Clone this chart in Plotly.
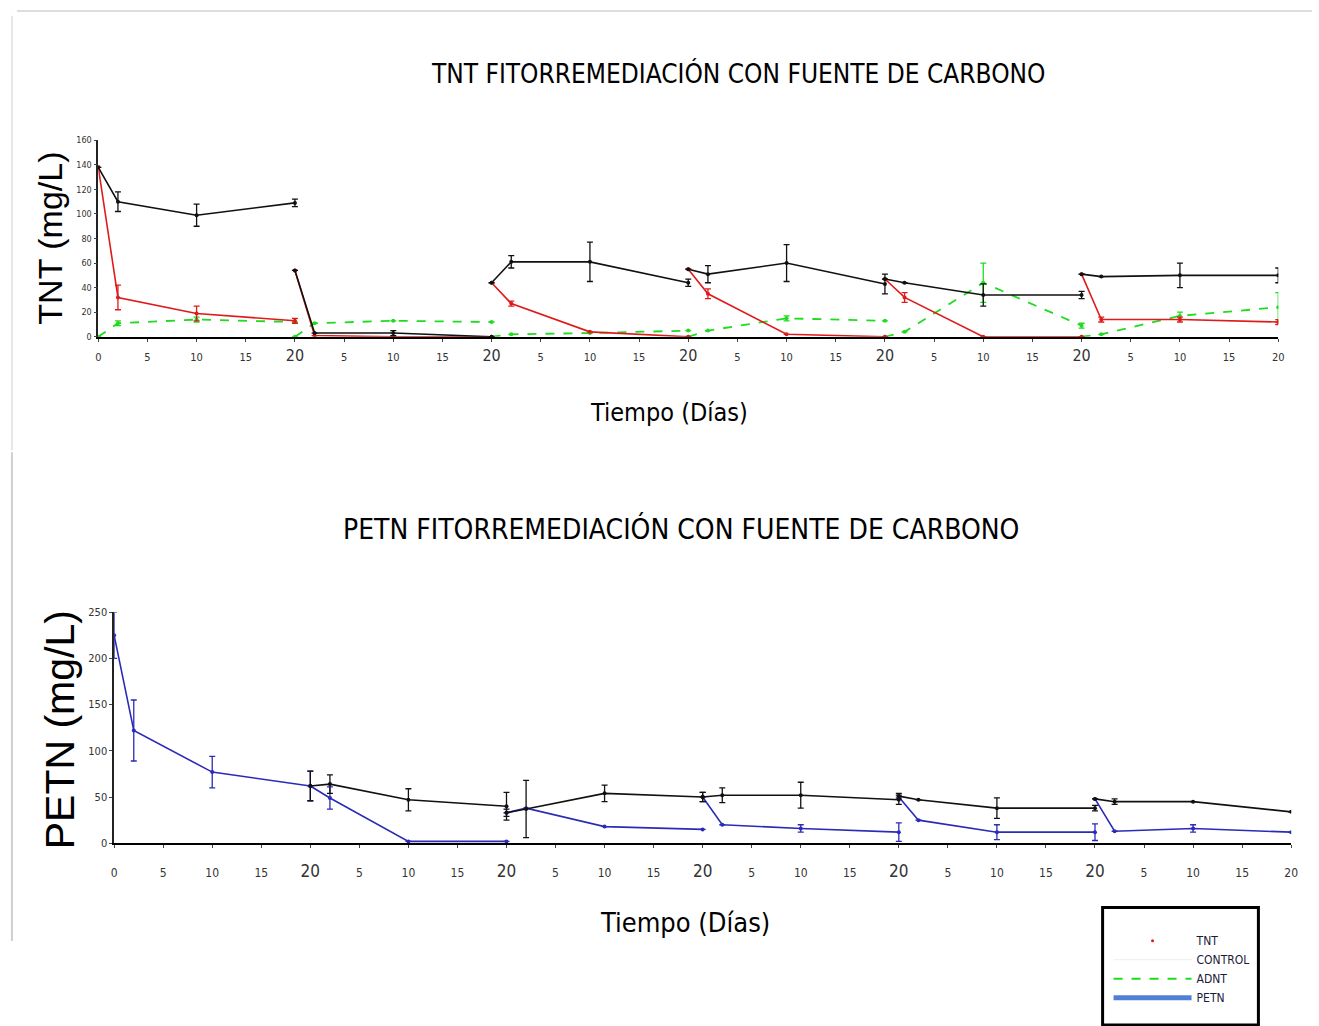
import plotly.graph_objects as go

W, H = 1319, 1026

# Sampling days within each 20-day cycle (six consecutive cycles)
DIAS = [0, 2, 10, 20]
N_CICLOS = 6

# ---- TNT phytoremediation (mg/L), one row per cycle ----
tnt_tnt = [[138, 32, 19, 13], [54, 1, 0, 0], [44, 27, 4, 0],
           [55, 35, 2, 0], [47, 32, 0, 0], [51, 14, 14, 12]]
tnt_tnt_err = [[None, 10, 6, 2], [None, None, None, None], [None, 2, None, None],
               [None, 4, None, None], [None, 4, None, None], [None, 2, 2, 2]]

tnt_control = [[138, 110, 99, 109], [54, 3, 3, 0], [44, 61, 61, 44],
               [55, 51, 60, 43], [47, 44, 34, 34], [51, 49, 50, 50]]
tnt_control_err = [[None, 8, 9, 3], [None, None, 2, None], [None, 5, 16, 3],
                   [None, 7, 15, 8], [None, None, 9, 3], [None, None, 10, 6]]

tnt_adnt = [[0, 11, 14, 12], [0, 11, 13, 12], [0, 2, 3, 5],
            [0, 5, 15, 13], [0, 4, 44, 9], [0, 2, 17, 24]]
tnt_adnt_err = [[None, 2, 2, None], [None, None, None, None], [None, None, None, None],
                [None, None, 2, None], [None, None, 16, 2], [None, None, 3, 12]]

# ---- PETN phytoremediation (mg/L) ----
petn_petn = [[225, 122, 77, 62], [62, 49, 2, 2], [33, 38, 18, 15],
             [50, 20, 16, 12], [50, 25, 12, 12], [48, 13, 16, 12]]
petn_petn_err = [[25, 33, 17, 16], [None, 12, None, None], [None, None, None, None],
                 [None, None, 4, 10], [None, None, 8, 9], [None, None, 4, None]]

petn_control = [[None, None, None, None], [62, 64, 47, 40], [33, 37, 54, 50],
                [50, 52, 52, 47], [51, 47, 38, 38], [48, 45, 45, 34]]
petn_control_err = [[None, None, None, None], [16, 10, 12, 15], [4, 31, 9, 5],
                    [5, 8, 14, 5], [3, None, 11, 3], [None, 3, None, None]]

# Tick labels repeated for every cycle
TICKS_CICLO = ["5", "10", "15", "20"]

ROJO = "#e01a1a"
NEGRO = "#111111"
VERDE = "#1fdc1f"
AZUL = "#2b2bb8"
AZUL_LEYENDA = "#4f7fd6"
NARROW = "Liberation Sans Narrow, Arial Narrow, DejaVu Sans Condensed, sans-serif"
SANS = "Liberation Sans, Arial, sans-serif"


def px(x):
    return x / W


def py(y):
    return 1 - y / H


def serie(valores, errores):
    xs, ys, es = [], [], []
    for k in range(N_CICLOS):
        for d, v, e in zip(DIAS, valores[k], errores[k]):
            xs.append(20 * k + d)
            ys.append(v)
            es.append(e)
        xs.append(None)
        ys.append(None)
        es.append(None)
    return xs, ys, es


def traza(valores, errores, color, eje_x, eje_y, dash="solid", ancho=1.6):
    xs, ys, es = serie(valores, errores)
    return go.Scatter(
        x=xs, y=ys, mode="lines+markers", xaxis=eje_x, yaxis=eje_y,
        line=dict(color=color, width=ancho, dash=dash),
        marker=dict(color=color, size=4),
        error_y=dict(type="data", array=es, visible=True, color=color,
                     thickness=1.3, width=3),
        showlegend=False, hoverinfo="skip",
    )


fig = go.Figure()

# Upper chart: TNT
fig.add_trace(traza(tnt_adnt, tnt_adnt_err, VERDE, "x", "y", dash="dash", ancho=1.8))
fig.add_trace(traza(tnt_tnt, tnt_tnt_err, ROJO, "x", "y"))
fig.add_trace(traza(tnt_control, tnt_control_err, NEGRO, "x", "y"))

# Lower chart: PETN
fig.add_trace(traza(petn_petn, petn_petn_err, AZUL, "x2", "y2"))
fig.add_trace(traza(petn_control, petn_control_err, NEGRO, "x2", "y2"))

# Legend keys
fig.add_trace(go.Scatter(x=[None], y=[None], name="TNT", mode="markers",
                         marker=dict(color=ROJO, size=3)))
fig.add_trace(go.Scatter(x=[None], y=[None], name="CONTROL", mode="lines",
                         line=dict(color="#eeeeee", width=1)))
fig.add_trace(go.Scatter(x=[None], y=[None], name="ADNT", mode="lines",
                         line=dict(color=VERDE, width=2, dash="dash")))
fig.add_trace(go.Scatter(x=[None], y=[None], name="PETN", mode="lines",
                         line=dict(color=AZUL_LEYENDA, width=5)))


def etiquetas_x(grande):
    vals, txt = [0], ["0"]
    for k in range(N_CICLOS):
        for j, t in enumerate(TICKS_CICLO):
            vals.append(20 * k + 5 * (j + 1))
            if t == "20" and k < N_CICLOS - 1:
                txt.append(f"<span style='font-size:{grande}px'>20</span>")
            else:
                txt.append(t)
    return vals, txt


tv1, tt1 = etiquetas_x(16)
tv2, tt2 = etiquetas_x(17)

eje_x_comun = dict(range=[0, 120], showgrid=False, zeroline=False, showline=True,
                   linecolor="#000000", linewidth=2, ticks="outside", ticklen=3,
                   tickcolor="#444444", tickmode="array")
eje_y_comun = dict(showgrid=False, zeroline=False, showline=True, linecolor="#222222",
                   linewidth=1.5, ticks="outside", ticklen=3, tickcolor="#444444")

fig.update_layout(
    width=W, height=H,
    margin=dict(l=0, r=0, t=0, b=0),
    paper_bgcolor="white", plot_bgcolor="rgba(0,0,0,0)",
    xaxis=dict(eje_x_comun, domain=[px(96), px(1285)], anchor="y",
               tickvals=tv1, ticktext=tt1, ticklabelstandoff=6,
               tickfont=dict(family=NARROW, size=11, color="#333333")),
    yaxis=dict(eje_y_comun, domain=[py(335), py(136)], anchor="x",
               range=[0, 160], tickvals=list(range(0, 161, 20)),
               tickfont=dict(family=NARROW, size=9, color="#333333")),
    xaxis2=dict(eje_x_comun, domain=[px(112), px(1298)], anchor="y2",
                tickvals=tv2, ticktext=tt2, ticklabelstandoff=14,
                tickfont=dict(family=NARROW, size=12, color="#333333")),
    yaxis2=dict(eje_y_comun, domain=[py(848), py(614)], anchor="x2",
                range=[0, 250], tickvals=list(range(0, 251, 50)),
                tickfont=dict(family=NARROW, size=11, color="#333333")),
    legend=dict(x=px(1114), y=py(932), xanchor="left", yanchor="top",
                bgcolor="rgba(0,0,0,0)", borderwidth=0, itemwidth=78,
                tracegroupgap=0, font=dict(family=NARROW, size=12, color="#1a1a3a")),
)

anotaciones = [
    ("TNT FITORREMEDIACIÓN CON FUENTE DE CARBONO", 741, 68, 26, NARROW, 0),
    ("Tiempo (Días)", 671, 412, 25, NARROW, 0),
    ("TNT (mg/L)", 47, 235, 34, SANS, -90),
    ("PETN FITORREMEDIACIÓN CON FUENTE DE CARBONO", 683, 530, 28, NARROW, 0),
    ("Tiempo (Días)", 687, 928, 27, NARROW, 0),
    ("PETN (mg/L)", 57, 733, 41, SANS, -90),
]
for texto, x, y, size, fam, ang in anotaciones:
    fig.add_annotation(text=texto, x=px(x), y=py(y), xref="paper", yref="paper",
                       showarrow=False, xanchor="center", yanchor="middle",
                       textangle=ang, font=dict(family=fam, size=size, color="#000000"))

# Slide frame and legend box
fig.add_shape(type="line", xref="paper", yref="paper", x0=px(14), x1=1.0,
              y0=py(5), y1=py(5), line=dict(color="#dddddd", width=2))
fig.add_shape(type="line", xref="paper", yref="paper", x0=px(9), x1=px(9),
              y0=py(10), y1=py(450), line=dict(color="#e6e6e6", width=2))
fig.add_shape(type="line", xref="paper", yref="paper", x0=px(9), x1=px(9),
              y0=py(452), y1=py(947), line=dict(color="#cfcfcf", width=2))
fig.add_shape(type="rect", xref="paper", yref="paper", x0=px(1108), x1=px(1265),
              y0=py(1032), y1=py(913), line=dict(color="#000000", width=3))

fig.write_html("out.html")
